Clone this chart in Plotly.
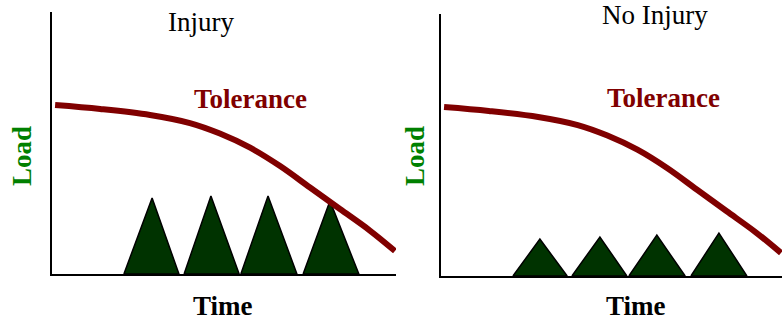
import plotly.graph_objects as go

# tolerance curve (time, load), same shape in both panels
tol_time = [0.09, 1.40, 2.85, 4.01, 4.88, 5.76, 6.63, 7.50, 8.37, 9.24, 9.97]
tol_load = [6.45, 6.30, 6.07, 5.76, 5.36, 4.82, 4.12, 3.30, 2.48, 1.66, 0.88]

# load cycles as triangles: start, end, peak time, peak load
inj_start = [2.09, 3.84, 5.49, 7.30]
inj_end = [3.69, 5.44, 7.12, 8.92]
inj_peak_t = [2.91, 4.62, 6.28, 8.08]
inj_peak = [2.90, 2.98, 2.98, 2.79]

noinj_start = [2.11, 3.84, 5.51, 7.33]
noinj_end = [3.70, 5.45, 7.16, 8.97]
noinj_peak_t = [2.90, 4.66, 6.33, 8.15]
noinj_peak = [1.41, 1.49, 1.56, 1.64]

W, H = 782, 320
RED = "#800000"
GREEN = "#008000"
TRI = "#003300"
FONT = "Liberation Serif"

fig = go.Figure()


def add_panel(xa, ya, starts, ends, peak_t, peaks):
    for s, e, pt, pk in zip(starts, ends, peak_t, peaks):
        fig.add_trace(go.Scatter(
            x=[s, pt, e, s], y=[0, pk, 0, 0], xaxis=xa, yaxis=ya,
            mode="lines", fill="toself", fillcolor=TRI,
            line=dict(color="black", width=1.5), hoverinfo="skip"))
    fig.add_trace(go.Scatter(
        x=tol_time, y=tol_load, xaxis=xa, yaxis=ya, mode="lines",
        line=dict(color=RED, width=6, shape="spline"), hoverinfo="skip"))


add_panel("x", "y", inj_start, inj_end, inj_peak_t, inj_peak)
add_panel("x2", "y2", noinj_start, noinj_end, noinj_peak_t, noinj_peak)

ax = dict(range=[0, 10], showgrid=False, zeroline=False, showticklabels=False,
          ticks="", showline=True, linecolor="black", linewidth=2, fixedrange=True)

fig.update_layout(
    width=W, height=H, margin=dict(l=0, r=0, t=0, b=0),
    paper_bgcolor="white", plot_bgcolor="white", showlegend=False,
    xaxis=dict(ax, domain=[52 / W, 396 / W], anchor="y"),
    yaxis=dict(ax, domain=[1 - 274 / H, 1 - 12 / H], anchor="x"),
    xaxis2=dict(ax, domain=[441 / W, 1.0], anchor="y2"),
    yaxis2=dict(ax, domain=[1 - 276 / H, 1 - 14 / H], anchor="x2"),
)


def label(text, px, py, color="black", bold=True, angle=0):
    fig.add_annotation(
        text=text, x=px / W, y=1 - py / H, xref="paper", yref="paper",
        showarrow=False, textangle=angle, xanchor="center", yanchor="middle",
        font=dict(family=FONT, size=27, color=color,
                  weight="bold" if bold else "normal"))


label("Injury", 201, 22, bold=False)
label("No Injury", 655, 15, bold=False)
label("Tolerance", 251, 99, color=RED)
label("Tolerance", 663, 98, color=RED)
label("Load", 22, 156, color=GREEN, angle=-90)
label("Load", 415, 156, color=GREEN, angle=-90)
label("Time", 223, 306)
label("Time", 636, 306)

# drop the page's default body margin so the chart sits at the top-left corner
fig.write_html("out.html", config={"displayModeBar": False},
               post_script="document.body.style.margin='0';")
